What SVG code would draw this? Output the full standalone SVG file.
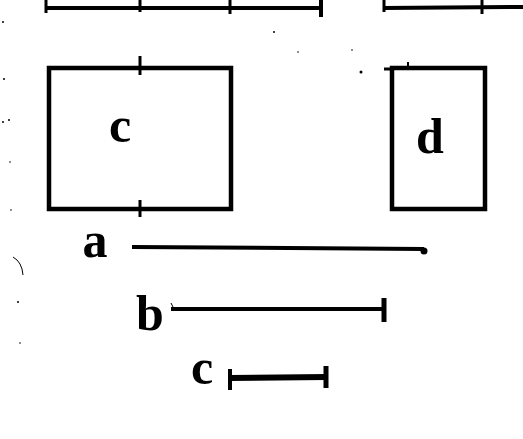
<svg xmlns="http://www.w3.org/2000/svg" width="523" height="439" viewBox="0 0 523 439">
<style>
.ln{stroke:#000;stroke-width:4;fill:none;stroke-linecap:butt}
.tk{stroke:#000;stroke-width:3;fill:none}
.box{stroke:#000;stroke-width:4.5;fill:none}
.lbl{font-family:"Liberation Serif","DejaVu Serif",serif;font-weight:bold;font-size:50px;fill:#000;text-anchor:middle}
.sp{fill:#000}
</style>
<rect width="523" height="439" fill="#fff"/>
<g id="connectors">
  <g id="top-scale-left">
    <line class="ln" x1="45" y1="8" x2="322" y2="8"/>
    <line class="tk" x1="46" y1="0" x2="46" y2="13"/>
    <line class="tk" x1="140" y1="0" x2="140" y2="12"/>
    <line class="tk" x1="230" y1="0" x2="230" y2="14"/>
    <line class="tk" x1="321" y1="0" x2="321" y2="17" style="stroke-width:4"/>
  </g>
  <g id="top-scale-right">
    <line class="ln" x1="383" y1="8" x2="523" y2="7"/>
    <line class="tk" x1="384" y1="0" x2="384" y2="12"/>
    <line class="tk" x1="482" y1="0" x2="482" y2="14"/>
  </g>
  <g id="line-a">
    <line class="ln" x1="132" y1="247" x2="424" y2="249"/>
    <circle cx="424" cy="251" r="3.5" class="sp"/>
  </g>
  <g id="line-b">
    <line class="ln" x1="171" y1="309" x2="386" y2="309"/>
    <line class="tk" x1="384" y1="298" x2="384" y2="322" style="stroke-width:5"/>
    <line class="tk" x1="171" y1="303" x2="174" y2="309" style="stroke-width:1"/>
  </g>
  <g id="line-c">
    <line class="ln" x1="230" y1="378" x2="327" y2="377" style="stroke-width:6"/>
    <line class="tk" x1="230" y1="369" x2="230" y2="390" style="stroke-width:4"/>
    <line class="tk" x1="326" y1="366" x2="326" y2="388" style="stroke-width:5"/>
  </g>
</g>
<g id="node-c">
  <rect class="box" x="49" y="68" width="182" height="141"/>
  <line class="tk" x1="140" y1="56" x2="140" y2="75"/>
  <line class="tk" x1="140" y1="200" x2="140" y2="217"/>
  <text class="lbl" x="120" y="142">c</text>
</g>
<g id="node-d">
  <rect class="box" x="392" y="68" width="93" height="141"/>
  <line class="tk" x1="384" y1="69" x2="392" y2="69"/>
  <line class="tk" x1="408" y1="62" x2="408" y2="68" style="stroke-width:2"/>
  <text class="lbl" x="430" y="153">d</text>
</g>
<g id="label-a"><text class="lbl" x="95" y="257">a</text></g>
<g id="label-b"><text class="lbl" x="150" y="330">b</text></g>
<g id="label-c2"><text class="lbl" x="202" y="384">c</text></g>
<g id="specks">
  <circle class="sp" cx="3" cy="22" r="1"/>
  <circle class="sp" cx="4" cy="79" r="1"/>
  <circle class="sp" cx="3" cy="122" r="1"/>
  <circle class="sp" cx="9" cy="120" r="1"/>
  <circle class="sp" cx="10" cy="162" r="0.8"/>
  <circle class="sp" cx="11" cy="210" r="0.8"/>
  <circle class="sp" cx="20" cy="343" r="0.8"/>
  <circle class="sp" cx="18" cy="302" r="1"/>
  <circle class="sp" cx="274" cy="32" r="1"/>
  <circle class="sp" cx="298" cy="52" r="0.8"/>
  <circle class="sp" cx="352" cy="50" r="0.8"/>
  <circle class="sp" cx="361" cy="72" r="1.5"/>
  <path d="M13,257 Q22,262 23,275" stroke="#000" stroke-width="1" fill="none"/>
</g>
</svg>
